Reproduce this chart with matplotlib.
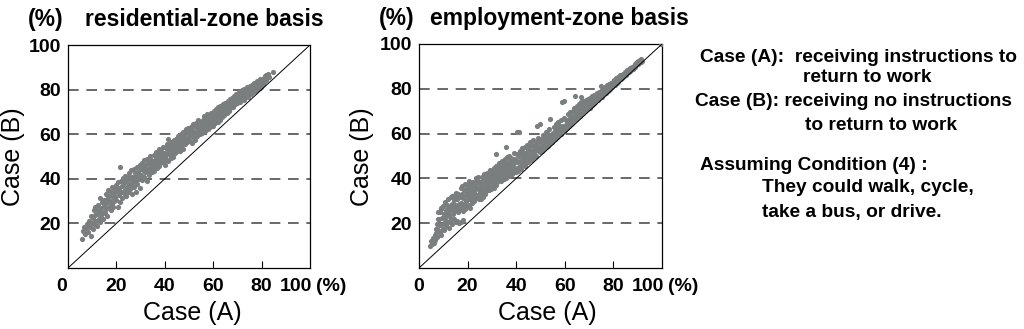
import numpy as np
import matplotlib
matplotlib.use("Agg")
import matplotlib.pyplot as plt

plt.rcParams['font.family'] = ['Liberation Sans', 'DejaVu Sans']

# Valores: (Case A, Case B) en %
res_pts = [
    (5.6, 13.0), (6.2, 16.5), (6.8, 18.2), (7.0, 15.4), (7.5, 17.8), (7.9, 19.6), (8.3, 16.2), (8.6, 21.0),
    (9.0, 18.5), (9.3, 23.4), (9.6, 14.2), (9.8, 20.1),
    (10.2, 17.6), (10.4, 22.5), (10.6, 25.8), (10.9, 19.8), (11.1, 27.5), (11.3, 23.6), (11.6, 21.2), (11.8, 26.1),
    (12.0, 18.9), (12.2, 24.3), (12.5, 28.4), (12.7, 22.0), (12.9, 25.5), (13.1, 31.5), (13.3, 20.6), (13.5, 27.0),
    (13.8, 23.8), (14.0, 29.6), (14.2, 25.1), (14.5, 21.9), (14.7, 27.8), (14.9, 30.5), (15.1, 24.6),
    (15.3, 28.9), (15.5, 33.2), (15.7, 26.4), (16.0, 31.0), (16.2, 23.5), (16.4, 29.8), (16.6, 35.0), (16.9, 27.2),
    (17.1, 32.4), (17.3, 30.1), (17.6, 25.9), (17.8, 34.3), (18.0, 28.6), (18.2, 36.2), (18.5, 31.7), (18.7, 27.5),
    (18.9, 33.8), (19.1, 29.9), (19.4, 35.6), (19.6, 32.0), (19.8, 37.4), (20.0, 30.4),
    (20.3, 34.5), (20.5, 27.4), (20.7, 38.6), (21.0, 32.8), (21.2, 36.0), (21.4, 29.8), (21.6, 45.2), (21.9, 34.1),
    (22.1, 38.9), (22.3, 31.5), (22.5, 36.7), (22.8, 40.2), (23.0, 33.6), (23.2, 37.9), (23.4, 35.2), (23.7, 41.3),
    (23.9, 32.4), (24.1, 39.0), (24.3, 36.4), (24.6, 34.0), (24.8, 40.7), (25.0, 37.6),
    (25.3, 42.5), (25.5, 35.3), (25.7, 39.8), (26.0, 37.1), (26.2, 43.9), (26.4, 33.0), (26.6, 41.0), (26.9, 38.4),
    (27.1, 44.6), (27.3, 36.2), (27.5, 40.9), (27.8, 42.8), (28.0, 34.3), (28.2, 39.3), (28.4, 45.3), (28.7, 37.7),
    (28.9, 43.0), (29.1, 41.4), (29.3, 39.9), (29.6, 46.2), (29.8, 36.0), (30.0, 44.2),
    (30.2, 41.6), (30.4, 47.3), (30.7, 39.4), (30.9, 43.8), (31.1, 45.6), (31.3, 40.6), (31.6, 48.4), (31.8, 42.9),
    (32.0, 46.0), (32.3, 44.4), (32.5, 38.8), (32.7, 49.1), (32.9, 43.4), (33.2, 47.1), (33.4, 45.0), (33.6, 41.8),
    (33.8, 50.2), (34.1, 46.8), (34.3, 44.0), (34.5, 48.3), (34.8, 42.9), (35.0, 47.5),
    (35.2, 45.5), (35.4, 50.6), (35.7, 43.6), (35.9, 48.5), (36.1, 46.6), (36.3, 52.0), (36.6, 44.8), (36.8, 49.4),
    (37.0, 47.7), (37.3, 51.3), (37.5, 45.6), (37.7, 53.2), (37.9, 48.8), (38.2, 46.9), (38.4, 50.5), (38.6, 52.6),
    (38.8, 47.5), (39.1, 49.9), (39.3, 54.3), (39.5, 48.2), (39.8, 51.6), (40.0, 46.4),
    (40.2, 50.1), (40.4, 53.8), (40.7, 48.7), (40.9, 55.6), (41.1, 51.7), (41.3, 47.9), (41.5, 58.0), (41.8, 52.8),
    (42.0, 50.6), (42.2, 54.6), (42.5, 49.3), (42.7, 56.3), (42.9, 52.1), (43.1, 54.0), (43.4, 50.0), (43.6, 57.2),
    (43.8, 53.4), (44.0, 55.5), (44.3, 51.5), (44.5, 57.9), (44.7, 54.3), (45.0, 52.6),
    (45.2, 56.1), (45.4, 53.7), (45.6, 59.0), (45.9, 55.0), (46.1, 52.3), (46.3, 57.6), (46.5, 60.1), (46.8, 54.6),
    (47.0, 58.4), (47.2, 56.2), (47.4, 53.2), (47.7, 61.0), (47.9, 57.3), (48.1, 59.6), (48.3, 55.4), (48.6, 62.3),
    (48.8, 58.0), (49.0, 56.5), (49.3, 60.8), (49.5, 62.6), (49.7, 57.7), (50.0, 59.3),
    (50.2, 61.5), (50.4, 57.0), (50.7, 63.2), (50.9, 59.8), (51.1, 55.9), (51.3, 62.0), (51.6, 64.4), (51.8, 58.6),
    (52.0, 61.0), (52.3, 63.6), (52.5, 57.5), (52.7, 65.1), (52.9, 60.4), (53.2, 62.7), (53.4, 59.3), (53.6, 64.0),
    (53.9, 66.2), (54.1, 61.7), (54.3, 63.3), (54.5, 60.0), (54.8, 65.4), (55.0, 62.4),
    (55.2, 64.3), (55.4, 60.6), (55.7, 66.5), (55.9, 62.9), (56.1, 68.0), (56.3, 64.9), (56.6, 61.4), (56.8, 67.2),
    (57.0, 63.7), (57.3, 65.8), (57.5, 69.0), (57.7, 62.3), (58.0, 66.9), (58.2, 64.6), (58.4, 68.3), (58.6, 63.3),
    (58.9, 66.1), (59.1, 69.7), (59.3, 65.3), (59.6, 67.6), (59.8, 63.9), (60.0, 68.8),
    (60.2, 66.4), (60.5, 70.6), (60.7, 64.8), (60.9, 68.2), (61.2, 71.3), (61.4, 66.9), (61.6, 69.3), (61.8, 65.6),
    (62.1, 72.1), (62.3, 68.0), (62.5, 70.1), (62.8, 66.5), (63.0, 72.8), (63.2, 69.0), (63.4, 71.2), (63.7, 67.7),
    (63.9, 73.4), (64.1, 70.4), (64.4, 68.5), (64.6, 72.3), (64.8, 70.0), (65.0, 74.0),
    (65.3, 71.6), (65.5, 69.4), (65.7, 73.7), (66.0, 72.0), (66.2, 75.0), (66.4, 70.6), (66.7, 73.2), (66.9, 75.8),
    (67.1, 71.9), (67.3, 74.4), (67.6, 72.7), (67.8, 76.4), (68.0, 74.0), (68.3, 72.3), (68.5, 77.0), (68.7, 75.2),
    (68.9, 73.4), (69.2, 76.1), (69.4, 78.0), (69.6, 74.6), (69.9, 76.9), (70.0, 73.8),
    (70.3, 77.6), (70.5, 75.4), (70.8, 79.0), (71.0, 76.6), (71.2, 74.5), (71.5, 78.3), (71.7, 80.0), (71.9, 76.0),
    (72.2, 78.9), (72.4, 77.2), (72.6, 75.5), (72.9, 80.3), (73.1, 78.0), (73.3, 76.5), (73.6, 79.6), (73.8, 81.2),
    (74.0, 77.7), (74.3, 79.0), (74.5, 76.9), (74.8, 80.6), (75.0, 78.5),
    (75.3, 81.6), (75.5, 79.6), (75.8, 77.9), (76.0, 82.2), (76.3, 80.4), (76.5, 78.8), (76.8, 83.0), (77.0, 81.0),
    (77.3, 79.5), (77.5, 82.6), (77.8, 80.8), (78.0, 84.0), (78.3, 82.0), (78.5, 80.2), (78.8, 83.4), (79.0, 81.6),
    (79.3, 84.6), (79.6, 82.8), (79.9, 81.2),
    (80.2, 84.3), (80.5, 82.5), (80.8, 85.4), (81.1, 83.6), (81.4, 85.9), (81.7, 84.5), (82.0, 86.4), (82.3, 85.0),
    (82.7, 86.9), (83.0, 85.7), (84.6, 88.0),
]

emp_pts = [
    (4.5, 9.8), (5.0, 12.1), (5.4, 10.6), (5.8, 13.4), (6.1, 11.2), (6.4, 14.8), (6.7, 12.6), (6.9, 17.5),
    (7.1, 15.6), (7.3, 19.8), (7.5, 13.9), (7.7, 22.0), (7.9, 17.1), (8.0, 24.8), (8.2, 19.0),
    (8.3, 21.7), (8.5, 16.0), (8.7, 24.9), (8.9, 27.0), (8.9, 19.2), (9.1, 14.8), (9.2, 26.3), (9.4, 22.4),
    (9.7, 17.6), (9.9, 27.8), (10.1, 20.3), (10.3, 24.1), (10.4, 16.9), (10.6, 29.5), (10.8, 22.9), (11.0, 18.8),
    (11.1, 26.0), (11.3, 21.1), (11.5, 28.3), (11.7, 19.9), (11.9, 24.6), (12.0, 30.7), (12.2, 17.8), (12.4, 23.4),
    (12.5, 27.1), (12.7, 20.8),
    (12.9, 25.8), (13.1, 31.6), (13.2, 22.0), (13.4, 28.7), (13.6, 19.6), (13.7, 32.3), (13.9, 24.2), (14.1, 27.3),
    (14.3, 30.2), (14.4, 21.8), (14.6, 25.5), (14.8, 32.8), (15.0, 28.0), (15.1, 20.4), (15.3, 33.4), (15.5, 26.7),
    (15.7, 30.9), (15.8, 21.2), (16.0, 25.1), (16.2, 33.0), (16.3, 28.6), (16.5, 20.1),
    (16.7, 31.5), (16.9, 26.4), (17.1, 35.6), (17.2, 29.0), (17.4, 20.6), (17.5, 33.2), (17.7, 27.3), (17.9, 36.4),
    (18.0, 25.6), (18.2, 21.6), (18.3, 31.1), (18.5, 34.8), (18.7, 28.4), (18.9, 37.3), (19.0, 26.5), (19.2, 32.6),
    (19.4, 29.7), (19.5, 35.2), (19.7, 27.8), (19.9, 33.9), (20.0, 30.6),
    (20.2, 36.8), (20.4, 28.1), (20.5, 37.4), (20.6, 39.0), (20.7, 32.1), (20.9, 27.0), (21.0, 35.0), (21.2, 36.5),
    (21.4, 30.4), (21.5, 33.6), (21.7, 37.9), (21.9, 29.2), (22.1, 36.2), (22.2, 31.8), (22.4, 38.6), (22.6, 34.7),
    (22.8, 29.9), (22.9, 37.5), (23.1, 33.0), (23.3, 40.2), (23.5, 31.2), (23.6, 36.0), (23.8, 38.9), (24.0, 32.7),
    (24.2, 35.4), (24.3, 40.6), (24.5, 30.8), (24.7, 37.8), (24.9, 33.9),
    (25.1, 38.6), (25.3, 33.2), (25.4, 30.9), (25.6, 36.4), (25.8, 40.7), (26.0, 32.5), (26.1, 35.1), (26.3, 39.0),
    (26.5, 31.8), (26.7, 41.9), (26.8, 34.4), (27.0, 37.7), (27.2, 33.0), (27.4, 40.1), (27.5, 36.0), (27.7, 34.2),
    (27.9, 42.6), (28.1, 38.3), (28.2, 35.2), (28.4, 41.0), (28.6, 37.0), (28.8, 34.9), (28.9, 39.6), (29.1, 43.6),
    (29.3, 36.1), (29.5, 38.5), (29.6, 42.0), (29.8, 35.3), (30.0, 40.2),
    (30.2, 37.1), (30.4, 42.4), (30.5, 39.8), (30.7, 44.8), (30.9, 35.9), (31.1, 41.3), (31.2, 38.6), (31.4, 43.5),
    (31.5, 50.9), (31.6, 37.0), (31.8, 45.6), (31.9, 40.2), (32.1, 43.0), (32.3, 38.2), (32.5, 44.4), (32.6, 40.9),
    (32.8, 46.9), (33.0, 39.4), (33.2, 42.3), (33.3, 45.2), (33.5, 40.0), (33.7, 43.6), (33.9, 38.9), (34.0, 47.8),
    (34.2, 41.7), (34.4, 45.6), (34.6, 40.6), (34.7, 43.9), (34.9, 39.7),
    (35.1, 46.2), (35.3, 42.7), (35.5, 48.8), (35.7, 53.9), (35.6, 40.3), (35.8, 44.5), (36.0, 47.1), (36.2, 41.4),
    (36.3, 49.6), (36.5, 43.8), (36.7, 45.9), (36.9, 40.9), (37.0, 50.1), (37.2, 45.0), (37.4, 42.2), (37.6, 47.8),
    (37.7, 44.1), (37.9, 49.3), (38.1, 42.8), (38.3, 46.6), (38.4, 41.9), (38.6, 48.4), (38.8, 45.3), (39.0, 43.4),
    (39.1, 51.2), (39.3, 46.9), (39.5, 44.3), (39.7, 48.7), (39.8, 42.7),
    (40.0, 48.2), (40.2, 44.6), (40.4, 51.0), (40.5, 60.6), (40.6, 43.5), (40.8, 47.1), (41.0, 60.5), (41.1, 49.8),
    (41.3, 45.2), (41.5, 52.4), (41.7, 47.6), (41.9, 44.3), (42.0, 50.6), (42.2, 46.5), (42.4, 53.6), (42.6, 48.9),
    (42.7, 45.8), (42.9, 51.7), (43.1, 47.3), (43.3, 50.0), (43.5, 45.7), (43.6, 54.2), (43.8, 48.6), (44.0, 46.9),
    (44.2, 51.3), (44.4, 55.0), (44.5, 49.4), (44.7, 47.5), (44.9, 52.5),
    (45.1, 48.7), (45.3, 53.8), (45.5, 50.5), (45.7, 56.4), (45.9, 48.1), (46.1, 52.2), (46.3, 49.9), (46.5, 55.1),
    (46.7, 51.4), (46.9, 49.2), (47.1, 57.0), (47.3, 53.2), (47.5, 50.8), (47.7, 54.9), (47.9, 52.4), (48.1, 50.0),
    (48.3, 56.4), (48.5, 54.0), (48.7, 63.5), (48.9, 58.2), (49.1, 54.6), (49.3, 52.3), (49.5, 56.7), (49.7, 51.7),
    (49.9, 64.1),
    (50.1, 53.9), (50.3, 57.6), (50.5, 52.3), (50.7, 55.4), (50.9, 59.3), (51.1, 54.0), (51.3, 56.8), (51.5, 53.6),
    (51.7, 58.5), (51.9, 55.1), (52.1, 60.6), (52.3, 54.2), (52.5, 57.9), (52.7, 55.9), (52.9, 54.6), (53.1, 59.6),
    (53.3, 56.3), (53.5, 55.4), (53.7, 61.9), (53.9, 57.2), (54.0, 66.4), (54.2, 56.1), (54.4, 59.0), (54.6, 57.4),
    (54.8, 56.4),
    (55.0, 60.3), (55.2, 57.6), (55.4, 62.8), (55.6, 59.0), (55.8, 57.4), (56.0, 61.2), (56.2, 59.7), (56.4, 64.1),
    (56.6, 58.6), (56.8, 60.8), (57.0, 62.5), (57.2, 59.3), (57.4, 65.0), (57.6, 61.2), (57.8, 59.9), (58.0, 63.6),
    (58.2, 60.6), (58.4, 59.9), (58.6, 66.2), (58.8, 62.1), (59.0, 74.0), (59.2, 63.4), (59.5, 74.5), (59.6, 61.6),
    (59.8, 67.0),
    (60.0, 62.4), (60.2, 61.8), (60.4, 66.1), (60.6, 63.7), (60.8, 62.3), (61.0, 65.0), (61.2, 68.6), (61.4, 63.2),
    (61.6, 66.4), (61.8, 63.4), (62.0, 69.5), (62.2, 65.7), (62.4, 64.1), (62.6, 67.8), (62.8, 65.5), (63.0, 64.6),
    (63.2, 70.2), (63.4, 66.6), (63.6, 71.3), (63.8, 65.9), (64.0, 68.2), (64.3, 76.8), (64.4, 69.9), (64.6, 66.5),
    (64.8, 71.6),
    (65.0, 68.4), (65.2, 72.3), (65.4, 67.2), (65.6, 70.2), (65.8, 73.0), (66.0, 69.4), (66.2, 67.9), (66.5, 76.2),
    (66.4, 71.5), (66.6, 74.0), (66.8, 68.9), (67.0, 72.1), (67.2, 69.3), (67.4, 71.0), (67.6, 74.7), (67.8, 70.2),
    (68.0, 73.0), (68.2, 71.2), (68.4, 69.9), (68.6, 75.1), (68.8, 72.2), (69.0, 73.8), (69.2, 71.0), (69.4, 72.8),
    (69.6, 75.6), (69.8, 71.9),
    (70.0, 73.9), (70.2, 71.6), (70.4, 76.0), (70.6, 72.6), (70.8, 74.6), (71.0, 72.8), (71.2, 76.8), (71.4, 74.1),
    (71.6, 73.0), (71.8, 75.5), (72.0, 77.4), (72.2, 73.7), (72.4, 75.2), (72.6, 74.0), (72.8, 77.3), (73.0, 75.0),
    (73.2, 78.0), (73.4, 75.9), (73.6, 74.9), (73.8, 76.8), (74.0, 78.6), (74.2, 76.0), (74.4, 77.6), (74.6, 76.4),
    (74.8, 78.7),
    (74.9, 81.4), (75.0, 76.9), (75.2, 79.4), (75.4, 76.5), (75.6, 78.4), (75.8, 80.3), (76.0, 77.6), (76.2, 79.6),
    (76.4, 78.0), (76.6, 81.0), (76.8, 79.0), (77.0, 78.1), (77.2, 80.3), (77.4, 81.6), (77.6, 79.2), (77.8, 80.8),
    (78.0, 79.3), (78.2, 82.2), (78.4, 80.3), (78.6, 81.5), (78.8, 80.0), (79.0, 82.7), (79.2, 81.0), (79.4, 82.2),
    (79.6, 80.7), (79.8, 83.1),
    (80.0, 81.5), (80.3, 83.8), (80.5, 81.9), (80.8, 83.0), (81.0, 84.6), (81.3, 82.6), (81.5, 83.9), (81.8, 85.2),
    (82.0, 83.2), (82.3, 84.6), (82.5, 83.8), (82.8, 86.0), (83.0, 84.4), (83.3, 85.6), (83.5, 84.6), (83.8, 86.7),
    (84.0, 85.3), (84.3, 86.4), (84.5, 85.5), (84.8, 87.4), (85.0, 86.3), (85.3, 87.3),
    (85.5, 86.9), (85.8, 88.2), (86.0, 87.5), (86.3, 87.4), (86.5, 88.9), (86.8, 88.0), (87.0, 89.3), (87.3, 88.3),
    (87.5, 89.9), (87.8, 89.1), (88.0, 89.0), (88.3, 90.4), (88.5, 89.7), (88.8, 91.0), (89.0, 89.8), (89.3, 91.3),
    (89.5, 90.6), (89.8, 91.8), (90.0, 91.1), (90.3, 92.3), (90.6, 91.6), (90.9, 92.8), (91.2, 92.0), (91.5, 93.1),
    (91.8, 92.6), (99.6, 99.8),
]

titles = ['residential-zone basis', 'employment-zone basis']
xticks = [20, 40, 60, 80]
yticks = [20, 40, 60, 80, 100]

notes = [
    (700, 57, 'Case (A):  receiving instructions to'),
    (803, 78, 'return to work'),
    (695, 102, 'Case (B): receiving no instructions'),
    (805, 125, 'to return to work'),
    (700, 165, 'Assuming Condition (4) :'),
    (762, 188, 'They could walk, cycle,'),
    (762, 212, 'take a bus, or drive.'),
]

W, H = 1024, 329
fig = plt.figure(figsize=(W / 100, H / 100), dpi=100)

# posiciones de los ejes en pixeles (izq, der, arriba, abajo)
boxes = [(68, 310, 45, 268), (419, 662, 44, 268)]
zero_shift = [-2.7, 0]
title_x = [0.07, 0.045]
xlab_x = [0.512, 0.527]
ylab_x = [-0.227, -0.235]
point_color = '#7a7e7e'
tk = 14

for i, pts in enumerate([res_pts, emp_pts]):
    l, r, t, b = boxes[i]
    ax = fig.add_axes([l / W, (H - b) / H, (r - l) / W, (b - t) / H])
    xa, yb = np.array(pts).T
    ax.scatter(xa, yb, s=14, color=point_color, marker='o', linewidths=0, zorder=3)
    ax.plot([0, 100], [0, 100], color='black', lw=0.7, zorder=4)
    for v in [20, 40, 60, 80]:
        ax.axhline(v, color='#404040', lw=1.1, dashes=(7, 5), zorder=1)
    ax.set_xlim(0, 100)
    ax.set_ylim(0, 100)
    ax.set_xticks(xticks)
    ax.set_xticklabels([str(v) for v in xticks], fontsize=tk, fontweight='bold')
    ax.set_yticks(yticks)
    ax.set_yticklabels([str(v) for v in yticks], fontsize=tk, fontweight='bold')
    ax.tick_params(axis='x', direction='in', length=5, width=0.8, pad=7)
    ax.tick_params(axis='y', length=0, pad=5)
    for sp in ax.spines.values():
        sp.set_linewidth(0.9)
    # etiquetas 0 y 100 (%) del eje x
    xt = ax.get_xaxis_transform()
    ax.text(zero_shift[i], -0.045, '0', transform=xt, ha='center', va='top', fontsize=tk, fontweight='bold')
    ax.text(101, -0.045, '100', transform=xt, ha='right', va='top', fontsize=tk, fontweight='bold')
    ax.text(102.5, -0.045, '(%)', transform=xt, ha='left', va='top', fontsize=tk, fontweight='bold')
    ax.text(xlab_x[i], -0.202, 'Case (A)', transform=ax.transAxes, ha='center', va='center', fontsize=18)
    ax.text(ylab_x[i], 0.498, 'Case (B)', transform=ax.transAxes, ha='center', va='center',
            rotation=90, fontsize=18)
    ax.text(-0.165, 1.085, '(%)', transform=ax.transAxes, ha='left', va='baseline',
            fontsize=16.5, fontweight='bold')
    ax.text(title_x[i], 1.085, titles[i], transform=ax.transAxes, ha='left', va='baseline',
            fontsize=16.5, fontweight='bold')

for x, y, s in notes:
    fig.text(x / W, 1 - y / H, s, ha='left', va='center', fontsize=13.8, fontweight='bold')

fig.savefig('out.png', dpi=100)
